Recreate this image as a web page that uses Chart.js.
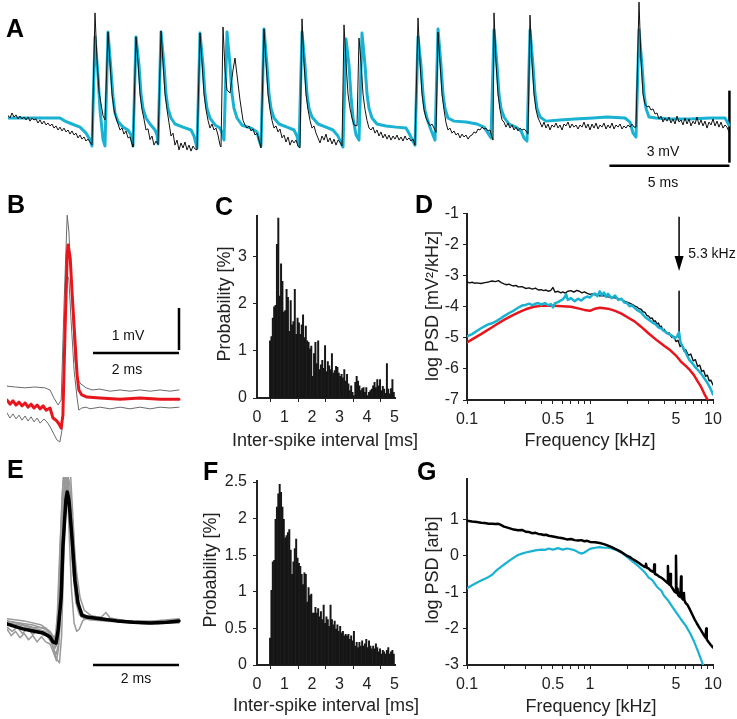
<!DOCTYPE html>
<html><head><meta charset="utf-8">
<script src="https://cdn.jsdelivr.net/npm/chart.js@4.4.1/dist/chart.umd.min.js"></script>
<style>
html,body{margin:0;padding:0;background:#fff;}
body{width:737px;height:719px;position:relative;overflow:hidden;font-family:'Liberation Sans',Arial,sans-serif;}
canvas{position:absolute;}
.lbl{position:absolute;font-weight:bold;font-size:25px;line-height:25px;color:#000;}
.txt{position:absolute;font-size:14px;line-height:14px;color:#111;white-space:nowrap;transform:translateX(-50%);}
.ax{position:absolute;font-size:18px;line-height:18px;color:#222;white-space:nowrap;transform:translate(-50%,-50%);}
.ax.rot{transform:translate(-50%,-50%) rotate(-90deg);}
</style></head><body>
<canvas id="cA" style="left:8px;top:0px" width="725" height="190"></canvas>
<canvas id="cB" style="left:7px;top:200px" width="175" height="245"></canvas>
<canvas id="cC" style="left:200px;top:200px" width="205" height="260"></canvas>
<canvas id="cD" style="left:405px;top:200px" width="332" height="260"></canvas>
<canvas id="cE" style="left:7px;top:477px" width="175" height="195"></canvas>
<canvas id="cF" style="left:200px;top:465px" width="205" height="254"></canvas>
<canvas id="cG" style="left:405px;top:465px" width="332" height="254"></canvas>

<div class="lbl" style="left:6px;top:16px">A</div>
<div class="lbl" style="left:7px;top:192px">B</div>
<div class="lbl" style="left:215px;top:194px">C</div>
<div class="lbl" style="left:415px;top:192px">D</div>
<div class="lbl" style="left:7px;top:457px">E</div>
<div class="lbl" style="left:203px;top:459px">F</div>
<div class="lbl" style="left:417px;top:459px">G</div>

<div class="txt" style="left:663px;top:144px">3 mV</div>
<div class="txt" style="left:663px;top:175px">5 ms</div>
<div class="txt" style="left:128px;top:328px">1 mV</div>
<div class="txt" style="left:127px;top:362px">2 ms</div>
<div class="txt" style="left:136px;top:671px">2 ms</div>
<div class="txt" style="left:712px;top:246px">5.3 kHz</div>

<div class="ax rot" style="left:224px;top:304px">Probability [%]</div>
<div class="ax" style="left:325px;top:440px">Inter-spike interval [ms]</div>
<div class="ax rot" style="left:432px;top:306px">log PSD [mV²/kHz]</div>
<div class="ax" style="left:590px;top:440px">Frequency [kHz]</div>
<div class="ax rot" style="left:210px;top:570px">Probability [%]</div>
<div class="ax" style="left:326px;top:705px">Inter-spike interval [ms]</div>
<div class="ax rot" style="left:432px;top:570px">log PSD [arb]</div>
<div class="ax" style="left:591px;top:706px">Frequency [kHz]</div>

<script>
// ---------------- DATA ----------------
// Panel A: [sample index (24 kHz), mV]
const FS_KHZ = 24;
const A_CYAN = [
[0,0],[52,0],[57,-0.13],[64,-0.25],[72,-0.38],[78,-0.63],[82,-0.92],[84,-1.17],
[87,3.38],[90,1.8],[92,0.33],[95,-0.9],[97,-1.17],
[100,3.58],[103,2.0],[105,0.9],[107,0.2],[110,-0.15],[115,-0.38],[120,-0.5],[123,-0.71],[125,-1.17],
[128,3.38],[131,2.2],[133,1.0],[135,0.4],[138,0],[142,-0.25],[147,-0.5],[149,-0.7],[150,-1.08],
[153,3.58],[156,2.2],[158,1.0],[160,0.4],[163,0],[167,-0.25],[175,-0.38],[183,-0.5],[186,-0.75],[189,-1.25],
[192,3.54],[195,2.2],[197,1.0],[199,0.4],[202,0],[207,-0.29],[212,-0.42],[214,-0.6],[216,-0.92],
[219,3.58],[222,2.2],[224,1.0],[226,0.4],[229,0],[234,-0.3],[243,-0.42],[249,-0.58],[251,-0.92],[253,-1.17],
[256,3.71],[259,2.2],[261,1.0],[263,0.4],[266,0],[271,-0.25],[279,-0.38],[286,-0.5],[289,-0.75],[291,-1.17],
[294,3.58],[297,2.2],[299,1.0],[301,0.4],[304,0.04],[310,-0.25],[318,-0.38],[325,-0.5],[330,-0.75],[335,-1.21],
[338,3.29],[341,2.2],[343,0.9],[345,0.0],[348,-0.7],[351,-0.92],
[354,3.54],[357,2.2],[359,1.0],[361,0.4],[364,0],[369,-0.25],[378,-0.33],[388,-0.38],[398,-0.42],[402,-0.71],[407,-1.13],
[410,3.38],[413,2.2],[415,1.0],[417,0.3],[420,-0.15],[423,-0.5],[427,-0.92],
[430,3.71],[433,2.2],[435,1.0],[437,0.4],[440,0],[446,-0.13],[458,-0.17],[469,-0.25],[476,-0.38],[480,-0.63],[483,-0.83],
[486,3.67],[489,2.2],[491,1.0],[493,0.4],[496,0.04],[501,-0.25],[508,-0.38],[513,-0.54],[516,-0.83],[519,-0.96],
[522,3.67],[525,2.2],[527,1.0],[529,0.4],[532,0.04],[538,-0.13],[552,-0.08],[567,-0.04],[585,0],[599,0.04],[617,0],[622,-0.17],[625,-0.63],[628,-0.79],
[631,3.67],[634,2.2],[636,1.0],[638,0.4],[641,0.04],[648,0],[662,-0.04],[682,-0.04],[702,0],[717,0],[721,-0.29]];
const A_BLACK = [
[0,0.1],[2,0.0],[4,0.21],[6,0.04],[8,0.13],[10,-0.04],[12,0.08],[14,-0.04],[16,0.04],[18,-0.08],[20,0.04],[22,-0.13],[24,0.0],[26,-0.08],[28,-0.04],[30,-0.21],[32,-0.08],[34,-0.25],[36,-0.13],[38,-0.29],[40,-0.21],[42,-0.33],[44,-0.25],[46,-0.42],[48,-0.33],[50,-0.5],[52,-0.38],[54,-0.54],[56,-0.42],[58,-0.58],[60,-0.5],[62,-0.67],[64,-0.54],[66,-0.71],[68,-0.63],[70,-0.83],[72,-0.71],[74,-0.88],[76,-0.79],[78,-0.96],[80,-0.88],[82,-1.0],[84,-1.13],
[87,4.38],[89,2.4],[91,1.1],[93,0.6],[95,0.1],[97,-0.08],
[100,3.58],[102,2.3],[104,1.0],[106,0.35],[108,0.0],[110,-0.25],[112,-0.5],[114,-0.42],[116,-0.67],[118,-0.54],[120,-0.83],[122,-0.79],[124,-1.08],[125,-1.21],
[128,3.38],[130,2.3],[132,1.0],[134,0.35],[136,-0.05],[138,-0.5],[140,-0.45],[142,-0.9],[144,-0.75],[146,-1.13],[148,-0.96],[150,-1.1],
[153,3.63],[155,2.3],[157,1.0],[159,0.35],[161,-0.2],[163,-0.75],[165,-0.63],[167,-1.13],[169,-0.92],[171,-1.33],[173,-1.04],[175,-1.25],[177,-1.0],[179,-1.33],[181,-1.13],[183,-1.38],[185,-1.17],[187,-1.29],[189,-1.33],
[192,3.54],[194,2.3],[196,1.0],[198,0.35],[200,-0.1],[202,-0.42],[204,-0.25],[206,-0.5],[208,-0.42],[210,-0.71],[212,-1.13],[213,-1.21],
[215,3.79],[217,2.0],[219,1.17],[222,1.04],[225,2.0],[227,2.5],[229,1.79],[232,0.75],[235,-0.1],[237,-0.29],[239,-0.42],[241,-0.33],[243,-0.54],[245,-0.46],[247,-0.71],[249,-0.63],[251,-0.92],[253,-1.25],
[256,3.71],[258,2.3],[260,1.0],[262,0.35],[264,-0.1],[266,-0.42],[268,-0.33],[270,-0.58],[272,-0.46],[274,-0.83],[276,-0.71],[278,-1.0],[280,-0.79],[282,-1.13],[284,-0.92],[286,-1.04],[288,-0.92],[290,-1.17],[292,-1.25],
[294,4.13],[296,2.3],[298,1.0],[300,0.35],[302,-0.1],[304,-0.42],[306,-0.33],[308,-0.63],[310,-0.83],[312,-1.04],[314,-0.75],[316,-0.92],[318,-0.67],[320,-1.0],[322,-0.83],[324,-1.08],[326,-0.88],[328,-1.13],[330,-0.92],[332,-1.0],[334,-1.17],
[336,3.88],[338,2.3],[340,1.0],[342,0.4],[344,0],[346,-0.29],[349,-0.33],
[351,3.33],[353,2.3],[355,1.0],[357,0.35],[359,-0.1],[361,-0.42],[363,-0.5],[365,-0.38],[367,-0.63],[369,-0.5],[371,-0.75],[373,-0.58],[375,-0.83],[377,-0.67],[379,-0.88],[381,-0.71],[383,-0.92],[385,-0.75],[387,-0.88],[389,-0.71],[391,-0.92],[393,-0.79],[395,-0.96],[397,-0.75],[399,-0.92],[401,-0.83],[403,-0.96],[405,-0.88],[407,-1.13],
[410,4.17],[412,2.3],[414,1.0],[416,0.35],[418,0.0],[420,-0.17],[422,-0.33],[424,-0.25],[426,-0.42],[428,-0.6],
[430,3.58],[432,2.3],[434,1.0],[436,0.35],[438,-0.2],[440,-0.5],[442,-0.42],[444,-0.63],[446,-0.54],[448,-0.71],[450,-0.63],[452,-0.83],[454,-0.67],[456,-0.79],[458,-0.71],[460,-0.88],[462,-0.75],[464,-0.71],[466,-0.58],[468,-0.63],[470,-0.46],[472,-0.5],[474,-0.38],[476,-0.46],[478,-0.42],[480,-0.54],[482,-0.5],[484,-0.79],[485,-0.92],
[486,4.38],[488,2.3],[490,1.0],[492,0.35],[494,-0.08],[496,-0.17],[498,-0.38],[500,-0.21],[502,-0.42],[504,-0.29],[506,-0.5],[508,-0.38],[510,-0.54],[512,-0.42],[514,-0.5],[516,-0.46],[518,-0.54],[520,-0.67],
[522,4.29],[524,2.3],[526,1.0],[528,0.35],[530,0.0],[532,-0.17],[534,-0.38],[536,-0.17],[538,-0.42],[540,-0.25],[542,-0.5],[544,-0.29],[546,-0.38],[548,-0.21],[550,-0.42],[552,-0.29],[554,-0.5],[556,-0.25],[558,-0.33],[560,-0.17],[562,-0.42],[564,-0.25],[566,-0.38],[568,-0.29],[570,-0.46],[572,-0.29],[574,-0.38],[576,-0.17],[578,-0.42],[580,-0.25],[582,-0.5],[584,-0.25],[586,-0.42],[588,-0.21],[590,-0.46],[592,-0.29],[594,-0.38],[596,-0.21],[598,-0.46],[600,-0.29],[602,-0.42],[604,-0.21],[606,-0.46],[608,-0.29],[610,-0.38],[612,-0.25],[614,-0.46],[616,-0.33],[618,-0.42],[620,-0.29],[622,-0.38],[624,-0.25],[626,-0.38],[628,-0.38],
[631,4.83],[633,2.42],[635,1.0],[637,0.58],[639,0.46],[641,0.5],[643,0.33],[645,0.38],[647,0.17],[649,0.21],[651,-0.04],[653,0.08],[655,-0.17],[657,0.0],[659,-0.13],[661,0.04],[663,-0.21],[665,-0.04],[667,-0.25],[669,0.08],[671,-0.17],[673,-0.08],[675,-0.29],[677,0.0],[679,-0.25],[681,-0.04],[683,-0.33],[685,-0.13],[687,-0.25],[689,0.04],[691,-0.29],[693,-0.08],[695,-0.33],[697,-0.13],[699,-0.42],[701,-0.17],[703,-0.29],[705,-0.04],[707,-0.33],[709,-0.13],[711,-0.38],[713,-0.17],[715,-0.42],[717,-0.29],[719,-0.38],[721,-0.58]];

// Panel B: [ms, mV]
const B_MEAN = [[0,0],[0.07,-0.1],[0.14,-0.02],[0.21,-0.12],[0.28,-0.05],[0.35,-0.14],[0.42,-0.07],[0.49,-0.17],[0.56,-0.1],[0.63,-0.19],[0.7,-0.12],[0.77,-0.21],[0.84,-0.14],[0.91,-0.24],[1.0,-0.19],[1.07,-0.43],[1.14,-0.48],[1.21,-0.57],[1.26,-0.67],[1.3,-0.36],[1.35,1.67],[1.4,3.45],[1.42,3.69],[1.47,3.38],[1.51,2.62],[1.58,1.43],[1.63,0.6],[1.67,0.24],[1.74,0.12],[1.86,0.07],[2.16,0.05],[2.63,0.02],[3.09,0.05],[3.56,0.02],[4.0,0.02]];
const B_UPPER = [[0,0.33],[0.19,0.31],[0.42,0.29],[0.65,0.31],[0.88,0.29],[1.0,0.24],[1.09,0.05],[1.19,-0.12],[1.26,0],[1.33,2.38],[1.4,4.4],[1.44,4.0],[1.51,2.38],[1.58,0.95],[1.65,0.48],[1.72,0.38],[1.84,0.29],[1.98,0.24],[2.16,0.26],[2.4,0.21],[2.63,0.24],[2.86,0.21],[3.09,0.24],[3.33,0.21],[3.56,0.24],[3.79,0.21],[4.0,0.24]];
const B_LOWER = [[0,-0.31],[0.07,-0.43],[0.14,-0.33],[0.21,-0.45],[0.28,-0.36],[0.35,-0.48],[0.42,-0.38],[0.49,-0.5],[0.56,-0.4],[0.63,-0.52],[0.7,-0.43],[0.77,-0.55],[0.86,-0.45],[0.95,-0.55],[1.02,-0.67],[1.09,-0.81],[1.16,-0.95],[1.23,-1.0],[1.28,-0.71],[1.33,0.95],[1.4,2.98],[1.44,2.86],[1.49,1.9],[1.56,0.71],[1.63,0.05],[1.67,-0.24],[1.74,-0.19],[1.84,-0.17],[1.93,-0.21],[2.16,-0.17],[2.4,-0.21],[2.63,-0.17],[2.86,-0.21],[3.09,-0.17],[3.33,-0.21],[3.56,-0.17],[3.79,-0.19],[4.0,-0.17]];

// Panel E: [ms, mV]
const E_MEAN = [[0,-0.02],[0.14,-0.07],[0.37,-0.14],[0.6,-0.19],[0.84,-0.24],[1.0,-0.33],[1.07,-0.45],[1.14,-0.48],[1.19,-0.17],[1.26,0.62],[1.3,1.81],[1.37,2.93],[1.4,3.12],[1.44,2.93],[1.51,2.05],[1.58,1.02],[1.65,0.48],[1.74,0.19],[1.86,0.14],[2.16,0.1],[2.56,0.05],[2.93,0.02],[3.33,0],[3.72,0.02],[4.0,0.05]];
const E_TRIAL_1 = [[0,0.05],[0.3,-0.02],[0.6,-0.1],[0.9,-0.12],[1.05,-0.3],[1.12,-0.4],[1.17,0.2],[1.23,1.8],[1.3,3.3],[1.35,3.9],[1.4,3.7],[1.46,2.6],[1.52,1.4],[1.6,0.5],[1.68,0.2],[1.8,0.1],[2.2,0.08],[2.6,0.05],[3.0,0.02],[3.5,0.0],[4.0,0.03]];
const E_TRIAL_2 = [[0,-0.05],[0.3,-0.1],[0.6,-0.15],[0.9,-0.25],[1.05,-0.5],[1.15,-0.85],[1.22,-0.95],[1.27,-0.3],[1.32,1.5],[1.38,3.2],[1.43,3.8],[1.48,3.5],[1.54,2.4],[1.6,1.2],[1.67,0.4],[1.75,0.15],[1.9,0.1],[2.4,0.05],[3.0,0.0],[3.5,-0.02],[4.0,0.02]];
const E_TRIAL_3 = [[0,-0.15],[0.1,-0.3],[0.2,-0.2],[0.3,-0.35],[0.4,-0.25],[0.5,-0.4],[0.6,-0.3],[0.7,-0.45],[0.8,-0.33],[0.9,-0.45],[1.0,-0.5],[1.08,-0.7],[1.15,-0.9],[1.2,-0.6],[1.26,0.8],[1.32,2.7],[1.37,3.6],[1.42,3.4],[1.48,2.3],[1.55,1.3],[1.62,0.6],[1.7,0.25],[1.85,0.12],[2.2,0.08],[2.8,0.02],[3.4,0.0],[4.0,0.05]];
const E_TRIAL_4 = [[0,0.0],[0.3,-0.05],[0.6,-0.12],[0.9,-0.2],[1.02,-0.35],[1.12,-0.6],[1.18,-0.4],[1.24,1.0],[1.3,2.8],[1.35,3.6],[1.4,3.3],[1.45,2.0],[1.5,0.8],[1.56,0.0],[1.62,-0.2],[1.68,-0.15],[1.76,0.05],[1.85,0.12],[2.2,0.08],[2.6,0.05],[3.2,0.02],[4.0,0.05]];
const E_TRIAL_5 = [[0,0.05],[0.3,0.0],[0.6,-0.05],[0.9,-0.15],[1.05,-0.3],[1.15,-0.55],[1.22,-0.3],[1.28,1.2],[1.34,2.9],[1.4,3.6],[1.46,3.3],[1.53,2.1],[1.6,1.0],[1.68,0.4],[1.78,0.2],[2.0,0.12],[2.2,0.15],[2.3,0.25],[2.4,0.12],[2.8,0.05],[3.3,0.02],[4.0,0.08]];
const E_TRIAL_6 = [[0,-0.1],[0.12,-0.2],[0.24,-0.1],[0.36,-0.25],[0.48,-0.12],[0.6,-0.28],[0.72,-0.15],[0.84,-0.3],[0.96,-0.25],[1.06,-0.55],[1.14,-0.75],[1.2,-0.5],[1.25,0.8],[1.31,2.6],[1.36,3.5],[1.41,3.4],[1.47,2.5],[1.54,1.2],[1.62,0.45],[1.72,0.15],[1.9,0.08],[2.5,0.03],[3.2,-0.02],[4.0,0.0]];
const E_TRIAL_7 = [[0,0.1],[0.4,0.05],[0.8,-0.05],[1.0,-0.2],[1.1,-0.35],[1.16,-0.2],[1.22,1.2],[1.28,3.0],[1.33,3.7],[1.39,3.6],[1.46,2.9],[1.54,2.0],[1.62,1.2],[1.7,0.6],[1.8,0.3],[1.95,0.18],[2.3,0.1],[2.8,0.05],[3.4,0.05],[4.0,0.1]];

// Panels C, F: inter-spike interval histograms (%), bins of 0.05 ms starting at 0.45 ms
const ISI_BIN_START = 0.45, ISI_BIN_WIDTH = 0.05;
const ISI_C = [1.21,1.30,1.69,1.93,1.96,3.25,3.81,2.16,2.84,2.47,
1.82,1.85,2.30,2.13,1.41,2.06,1.55,1.62,2.30,1.35,
1.69,1.59,1.35,1.55,1.76,1.28,1.52,1.21,1.18,1.04,
1.10,0.46,0.94,1.18,0.73,1.21,0.60,0.70,0.80,0.63,
1.11,0.56,0.77,0.68,0.60,0.94,0.53,0.58,0.67,0.65,
0.53,0.46,0.50,0.43,0.60,0.36,0.50,0.30,0.16,0.26,
0.12,0.05,0.33,0.46,0.36,0.26,0.16,0.20,0.22,0.12,
0.22,0.05,0.12,0.16,0.19,0.26,0.33,0.22,0.39,0.26,
0.39,0.16,0.25,0.19,0.10,0.73,0.19,0.09,0.20,0.39,
0.12];
const ISI_F = [0.37,1.02,1.41,1.43,1.99,2.16,2.34,2.47,2.36,2.16,
1.99,1.74,1.77,1.81,1.85,1.57,1.24,1.41,1.59,1.72,
1.46,1.39,1.35,1.24,1.10,1.26,1.24,0.86,1.06,0.95,
0.97,0.71,0.71,0.79,0.71,0.77,0.66,0.73,0.62,0.82,
0.57,0.66,0.62,0.53,0.82,0.62,0.55,0.60,0.49,0.55,
0.46,0.53,0.44,0.46,0.40,0.42,0.40,0.42,0.35,0.40,
0.33,0.46,0.26,0.31,0.24,0.31,0.26,0.33,0.26,0.29,
0.35,0.24,0.33,0.26,0.22,0.26,0.22,0.29,0.24,0.18,
0.22,0.15,0.20,0.18,0.15,0.20,0.24,0.15,0.18,0.20,
0.15];
const ISI_XTICKS = [0,1,2,3,4,5];
const C_YTICKS = [0,1,2,3];
const F_YTICKS = [0,0.5,1,1.5,2,2.5];

// Panels D, G: [kHz, log PSD]
const PSD_D_BLACK = [[0.1,-3.2],[0.105,-3.23],[0.11,-3.21],[0.115,-3.24],[0.12,-3.23],[0.13,-3.25],[0.14,-3.22],[0.15,-3.2],[0.16,-3.17],[0.17,-3.19],[0.18,-3.16],[0.19,-3.22],[0.2,-3.26],[0.21,-3.29],[0.22,-3.27],[0.23,-3.31],[0.24,-3.33],[0.25,-3.31],[0.26,-3.36],[0.28,-3.35],[0.3,-3.41],[0.32,-3.39],[0.34,-3.43],[0.36,-3.4],[0.38,-3.46],[0.4,-3.45],[0.42,-3.48],[0.44,-3.46],[0.46,-3.5],[0.48,-3.47],[0.5,-3.38],[0.52,-3.53],[0.55,-3.5],[0.58,-3.55],[0.6,-3.52],[0.63,-3.56],[0.66,-3.5],[0.7,-3.48],[0.74,-3.53],[0.78,-3.47],[0.82,-3.5],[0.86,-3.55],[0.9,-3.52],[0.95,-3.57],[1.0,-3.6],[1.05,-3.58],[1.1,-3.62],[1.15,-3.6],[1.2,-3.65],[1.3,-3.64],[1.4,-3.68],[1.5,-3.7],[1.6,-3.71],[1.7,-3.74],[1.8,-3.77],[1.9,-3.82],[2.0,-3.85],[2.1,-3.88],[2.2,-3.92],[2.3,-3.97],[2.4,-4.0],[2.5,-4.06],[2.6,-4.08],[2.7,-4.16],[2.8,-4.18],[2.9,-4.28],[3.0,-4.3],[3.1,-4.38],[3.2,-4.36],[3.3,-4.47],[3.4,-4.45],[3.5,-4.56],[3.6,-4.52],[3.7,-4.65],[3.8,-4.62],[3.9,-4.76],[4.0,-4.72],[4.2,-4.86],[4.4,-4.84],[4.6,-4.98],[4.8,-4.95],[5.0,-5.12],[5.2,-5.08],[5.4,-5.28],[5.6,-5.22],[5.8,-5.42],[6.0,-5.38],[6.3,-5.56],[6.6,-5.52],[6.9,-5.74],[7.2,-5.7],[7.5,-5.92],[7.8,-5.88],[8.1,-6.08],[8.4,-6.05],[8.7,-6.24],[9.0,-6.2],[9.3,-6.38],[9.6,-6.36],[10,-6.52]];
const PSD_D_CYAN = [[0.1,-4.95],[0.11,-4.88],[0.12,-4.78],[0.13,-4.69],[0.14,-4.62],[0.15,-4.56],[0.16,-4.53],[0.17,-4.48],[0.18,-4.42],[0.19,-4.36],[0.2,-4.3],[0.21,-4.25],[0.22,-4.2],[0.24,-4.12],[0.26,-4.03],[0.28,-3.96],[0.3,-3.94],[0.32,-3.9],[0.34,-3.95],[0.36,-3.9],[0.38,-3.88],[0.4,-3.93],[0.43,-3.88],[0.46,-3.95],[0.48,-3.91],[0.5,-4.02],[0.52,-3.88],[0.55,-3.85],[0.58,-3.79],[0.6,-3.76],[0.62,-3.7],[0.64,-3.6],[0.66,-3.78],[0.7,-3.72],[0.75,-3.82],[0.8,-3.74],[0.85,-3.8],[0.9,-3.71],[0.95,-3.67],[1.0,-3.7],[1.05,-3.61],[1.1,-3.57],[1.15,-3.66],[1.2,-3.5],[1.25,-3.62],[1.3,-3.54],[1.35,-3.68],[1.4,-3.58],[1.5,-3.72],[1.6,-3.64],[1.7,-3.78],[1.8,-3.74],[1.9,-3.86],[2.0,-3.88],[2.1,-3.98],[2.2,-3.96],[2.4,-4.1],[2.6,-4.18],[2.8,-4.33],[3.0,-4.42],[3.2,-4.5],[3.4,-4.56],[3.6,-4.66],[3.8,-4.7],[4.0,-4.78],[4.3,-4.86],[4.6,-4.92],[4.9,-5.02],[5.1,-4.95],[5.3,-4.82],[5.45,-5.15],[5.7,-5.3],[6.0,-5.48],[6.4,-5.7],[6.8,-5.82],[7.2,-5.95],[7.6,-6.05],[8.0,-6.15],[8.5,-6.3],[9.0,-6.45],[9.5,-6.62],[10,-6.82]];
const PSD_D_RED = [[0.1,-5.15],[0.11,-5.05],[0.12,-4.96],[0.13,-4.88],[0.14,-4.8],[0.16,-4.66],[0.18,-4.53],[0.2,-4.42],[0.22,-4.33],[0.25,-4.22],[0.28,-4.13],[0.3,-4.08],[0.35,-4.0],[0.4,-3.97],[0.5,-3.97],[0.6,-3.98],[0.7,-4.0],[0.8,-4.05],[0.9,-4.1],[1.0,-4.13],[1.1,-4.06],[1.2,-4.03],[1.4,-4.06],[1.6,-4.13],[1.8,-4.22],[2.0,-4.33],[2.3,-4.47],[2.6,-4.64],[3.0,-4.86],[3.5,-5.08],[4.0,-5.25],[4.5,-5.4],[5.0,-5.57],[5.5,-5.77],[6.0,-5.9],[6.5,-6.04],[7.0,-6.2],[7.5,-6.4],[8.0,-6.58],[8.5,-6.8],[9.0,-6.98],[9.3,-7.1]];
const PSD_G_BLACK = [[0.1,0.96],[0.11,0.94],[0.12,0.93],[0.13,0.91],[0.14,0.9],[0.15,0.88],[0.16,0.88],[0.17,0.87],[0.18,0.88],[0.19,0.84],[0.2,0.8],[0.21,0.78],[0.22,0.76],[0.23,0.74],[0.24,0.72],[0.26,0.7],[0.28,0.71],[0.3,0.66],[0.32,0.65],[0.34,0.62],[0.36,0.63],[0.38,0.6],[0.4,0.59],[0.42,0.57],[0.44,0.58],[0.46,0.55],[0.5,0.53],[0.55,0.5],[0.6,0.48],[0.65,0.45],[0.7,0.46],[0.75,0.43],[0.8,0.42],[0.85,0.43],[0.9,0.4],[0.95,0.41],[1.0,0.38],[1.1,0.37],[1.2,0.35],[1.3,0.32],[1.4,0.28],[1.5,0.24],[1.6,0.19],[1.7,0.15],[1.8,0.1],[1.9,0.05],[2.0,0.0],[2.1,-0.03],[2.2,-0.08],[2.35,-0.14],[2.5,-0.2],[2.65,-0.26],[2.8,-0.31],[2.85,-0.22],[2.9,-0.33],[3.0,-0.35],[3.1,-0.4],[3.2,-0.43],[3.3,-0.45],[3.33,-0.24],[3.37,-0.5],[3.5,-0.52],[3.65,-0.57],[3.8,-0.6],[4.0,-0.66],[4.15,-0.71],[4.25,-0.74],[4.3,-0.28],[4.35,-0.77],[4.45,-0.8],[4.5,-0.5],[4.55,-0.83],[4.7,-0.9],[4.85,-0.98],[4.95,-1.0],[5.0,0.0],[5.05,-1.02],[5.15,-0.9],[5.2,-1.08],[5.35,-1.12],[5.45,-0.95],[5.5,-0.57],[5.55,-1.15],[5.7,-1.2],[5.8,-1.02],[5.85,-1.22],[6.0,-1.3],[6.2,-1.35],[6.5,-1.48],[6.8,-1.62],[7.1,-1.75],[7.4,-1.86],[7.7,-1.96],[8.0,-2.05],[8.4,-2.17],[8.7,-2.25],[8.8,-2.0],[8.9,-2.3],[9.2,-2.37],[9.6,-2.45],[10,-2.52]];
const PSD_G_CYAN = [[0.1,-0.89],[0.11,-0.81],[0.12,-0.74],[0.13,-0.68],[0.14,-0.63],[0.15,-0.58],[0.16,-0.52],[0.17,-0.43],[0.18,-0.36],[0.19,-0.3],[0.2,-0.24],[0.22,-0.14],[0.24,-0.05],[0.26,0.02],[0.28,0.06],[0.3,0.09],[0.33,0.12],[0.36,0.15],[0.4,0.17],[0.43,0.16],[0.46,0.2],[0.5,0.17],[0.55,0.21],[0.6,0.17],[0.65,0.2],[0.7,0.18],[0.75,0.15],[0.8,0.1],[0.85,0.06],[0.9,0.09],[0.95,0.14],[1.0,0.19],[1.1,0.22],[1.2,0.24],[1.3,0.22],[1.4,0.22],[1.5,0.2],[1.6,0.17],[1.8,0.09],[2.0,-0.03],[2.2,-0.15],[2.5,-0.3],[2.8,-0.46],[3.0,-0.6],[3.2,-0.66],[3.5,-0.85],[3.8,-0.96],[4.0,-1.1],[4.3,-1.22],[4.6,-1.37],[5.0,-1.55],[5.5,-1.75],[6.0,-1.92],[6.5,-2.12],[7.0,-2.35],[7.5,-2.6],[8.0,-2.85],[8.5,-3.1]];
const FREQ_TICKS = [0.1,0.2,0.3,0.4,0.5,0.6,0.7,0.8,0.9,1,2,3,4,5,6,7,8,9,10];
const FREQ_LABELS = [0.1,0.5,1,5,10];
const D_YTICKS = [-7,-6,-5,-4,-3,-2,-1];
const G_YTICKS = [-3,-2,-1,0,1];
const PEAK_FREQ = 5.3;          // kHz, marked in D
const PEAK_MARK = [-3.5, -5.0]; // vertical marker span (log PSD)
const ARROW_SPAN = [-1.1, -2.85];

// ---------------- STYLE / SETUP ----------------
const CYAN = '#19b2d3', RED = '#e8161c', INK = '#161616';
Chart.defaults.font.family = "'Liberation Sans', Arial, sans-serif";
Chart.defaults.color = '#222';
Chart.defaults.animation = false;
Chart.defaults.responsive = false;
Chart.defaults.devicePixelRatio = 1;
Chart.defaults.plugins.legend.display = false;
Chart.defaults.plugins.tooltip.enabled = false;
Chart.defaults.elements.point.radius = 0;
Chart.defaults.elements.line.borderJoinStyle = 'round';
Chart.defaults.elements.line.borderCapStyle = 'round';
Chart.defaults.elements.line.tension = 0;

const pts = arr => arr.map(([x, y]) => ({x, y}));
const line = (data, color, width, extra) => Object.assign({type:'line', data, borderColor:color, borderWidth:width, fill:false, pointRadius:0}, extra||{});

function bareScales(xmin, xmax, ymin, ymax) {
  return { x:{type:'linear', display:false, min:xmin, max:xmax}, y:{type:'linear', display:false, min:ymin, max:ymax} };
}
function axisY(o) {
  return {
    type:'linear', position:'left', min:o.min, max:o.max,
    afterFit: s => { s.width = o.width; },
    afterBuildTicks: s => { s.ticks = o.ticks.map(v => ({value:v})); },
    grid:{display:true, drawOnChartArea:false, drawTicks:true, tickLength:4, tickColor:'#222', tickWidth:1},
    border:{display:true, color:'#222', width:2},
    ticks:{padding:o.tickPad, font:{size:16}, color:'#222', autoSkip:false, callback: v => String(v)},
    title:{display:false}
  };
}
function axisX(o) {
  return {
    type:o.type || 'linear', position:'bottom', min:o.min, max:o.max, offset:false,
    afterFit: s => { s.height = o.height; },
    afterBuildTicks: s => { s.ticks = o.ticks.map(v => ({value:v})); },
    grid:{display:true, drawOnChartArea:false, drawTicks:true, tickLength:4, tickColor:'#222', tickWidth:1},
    border:{display:true, color:'#222', width:2},
    ticks:{padding:6, font:{size:16}, color:'#222', autoSkip:false, maxRotation:0, minRotation:0,
      callback: v => (o.labels ? (o.labels.includes(v) ? String(v) : '') : String(v))},
    title:{display:false}
  };
}

// ---------------- PANEL A ----------------
const A_BAR_MS = 5, A_BAR_MV = 3, A_BAR_END_MS = 30.06, A_BAR_BASE_MV = -1.99, A_VBAR_BOTTOM = -1.86;
new Chart(document.getElementById('cA'), {
  type:'line',
  data:{datasets:[
    line(A_BLACK.map(([s,v]) => ({x:s/FS_KHZ, y:v})), '#111', 1),
    line(A_CYAN.map(([s,v]) => ({x:s/FS_KHZ, y:v})), CYAN, 3),
    line([{x:A_BAR_END_MS, y:A_VBAR_BOTTOM},{x:A_BAR_END_MS, y:A_VBAR_BOTTOM + A_BAR_MV}], '#000', 2.5, {borderCapStyle:'butt'}),
    line([{x:A_BAR_END_MS - A_BAR_MS, y:A_BAR_BASE_MV},{x:A_BAR_END_MS, y:A_BAR_BASE_MV}], '#000', 2.5, {borderCapStyle:'butt'})
  ]},
  options:{layout:{padding:0}, scales:bareScales(0, 725/FS_KHZ, -3.0, 4.917)}
});

// ---------------- PANEL B ----------------
const B_BAR_MS = 2, B_BAR_MV = 1, B_BAR_END_MS = 4.0, B_BAR_BASE_MV = 1.12, B_VBAR_BOTTOM = 1.19;
new Chart(document.getElementById('cB'), {
  type:'line',
  data:{datasets:[
    line(pts(B_MEAN), RED, 3),
    line(pts(B_UPPER), '#6a6a6a', 1),
    line(pts(B_LOWER), '#6a6a6a', 1),
    line([{x:B_BAR_END_MS, y:B_VBAR_BOTTOM},{x:B_BAR_END_MS, y:B_VBAR_BOTTOM + B_BAR_MV}], '#000', 2.5, {borderCapStyle:'butt'}),
    line([{x:B_BAR_END_MS - B_BAR_MS, y:B_BAR_BASE_MV},{x:B_BAR_END_MS, y:B_BAR_BASE_MV}], '#000', 2.5, {borderCapStyle:'butt'})
  ]},
  options:{layout:{padding:0}, scales:bareScales(0, 175/43, -1.071, 4.762)}
});

// ---------------- PANEL E ----------------
const E_BAR_MS = 2, E_BAR_END_MS = 4.0, E_BAR_BASE_MV = -1.0;
const grayE = [E_TRIAL_1, E_TRIAL_2, E_TRIAL_3, E_TRIAL_4, E_TRIAL_5, E_TRIAL_6, E_TRIAL_7];
new Chart(document.getElementById('cE'), {
  type:'line',
  data:{datasets:[
    line(pts(E_MEAN), '#000', 3.5, {clip:0}),
    ...grayE.map(t => line(pts(t), '#999', 1.5, {clip:0})),
    line([{x:E_BAR_END_MS - E_BAR_MS, y:E_BAR_BASE_MV},{x:E_BAR_END_MS, y:E_BAR_BASE_MV}], '#000', 2.5, {borderCapStyle:'butt'})
  ]},
  options:{layout:{padding:0}, scales:bareScales(0, 175/43, -1.167, 3.476)}
});

// ---------------- PANELS C, F ----------------
function histChart(id, values, yMax, yTicks, axH) {
  new Chart(document.getElementById(id), {
    type:'bar',
    data:{datasets:[{
      data: values.map((v, i) => ({x: ISI_BIN_START + (i + 0.5) * ISI_BIN_WIDTH, y: v})),
      backgroundColor: INK, borderWidth:0, barPercentage:1, categoryPercentage:1, inflateAmount:0.3
    }]},
    options:{
      layout:{padding:{top:10, right:8, left:0, bottom:0}},
      scales:{
        x: axisX({min:0, max:5.05, ticks:ISI_XTICKS, height:axH}),
        y: axisY({min:0, max:yMax, ticks:yTicks, width:57, tickPad:6})
      }
    }
  });
}
histChart('cC', ISI_C, 3.86, C_YTICKS, 62);
histChart('cF', ISI_F, 2.52, F_YTICKS, 54);

// ---------------- PANELS D, G ----------------
const arrowPlugin = {
  id:'peakArrow',
  afterDatasetsDraw(chart) {
    const {ctx, scales:{x, y}} = chart;
    const px = x.getPixelForValue(PEAK_FREQ);
    const y0 = y.getPixelForValue(ARROW_SPAN[0]), y1 = y.getPixelForValue(ARROW_SPAN[1]);
    ctx.save();
    ctx.strokeStyle = '#000'; ctx.fillStyle = '#000'; ctx.lineWidth = 1.5;
    ctx.beginPath(); ctx.moveTo(px, y0); ctx.lineTo(px, y1 - 12); ctx.stroke();
    ctx.beginPath(); ctx.moveTo(px - 4.5, y1 - 15); ctx.lineTo(px + 4.5, y1 - 15); ctx.lineTo(px, y1); ctx.closePath(); ctx.fill();
    ctx.restore();
  }
};
new Chart(document.getElementById('cD'), {
  type:'line',
  data:{datasets:[
    line(pts(PSD_D_CYAN), CYAN, 2.5),
    line(pts(PSD_D_BLACK), '#111', 1.4),
    line(pts(PSD_D_RED), RED, 2.5),
    line([{x:PEAK_FREQ, y:PEAK_MARK[0]},{x:PEAK_FREQ, y:PEAK_MARK[1]}], '#000', 1.5, {borderCapStyle:'butt'})
  ]},
  options:{
    layout:{padding:{top:12, right:24, left:0, bottom:0}},
    scales:{
      x: axisX({type:'logarithmic', min:0.1, max:10, ticks:FREQ_TICKS, labels:FREQ_LABELS, height:60}),
      y: axisY({min:-7, max:-1, ticks:D_YTICKS, width:62, tickPad:4})
    }
  },
  plugins:[arrowPlugin]
});
new Chart(document.getElementById('cG'), {
  type:'line',
  data:{datasets:[
    line(pts(PSD_G_BLACK), '#000', 2.5),
    line(pts(PSD_G_CYAN), CYAN, 2.2)
  ]},
  options:{
    layout:{padding:{top:10, right:24, left:0, bottom:0}},
    scales:{
      x: axisX({type:'logarithmic', min:0.1, max:10, ticks:FREQ_TICKS, labels:FREQ_LABELS, height:54}),
      y: axisY({min:-3, max:2.12, ticks:G_YTICKS, width:62, tickPad:4})
    }
  }
});
</script>
</body></html>
